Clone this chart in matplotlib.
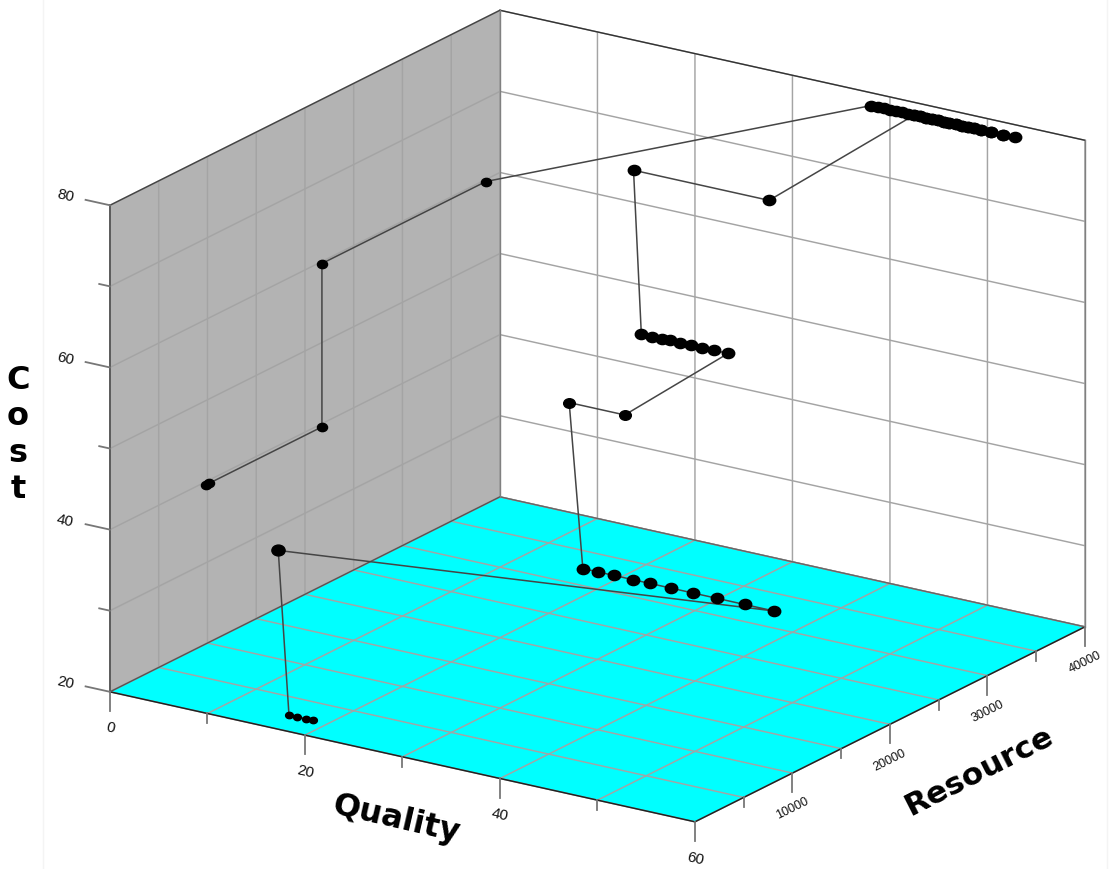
import matplotlib
matplotlib.use("Agg")
import matplotlib.pyplot as plt
from matplotlib.lines import Line2D
from matplotlib.markers import MarkerStyle
from matplotlib.transforms import Affine2D

# tick values
quality_major = [0, 20, 40, 60]
quality_minor = [10, 30, 50]
resource_major = [10000, 20000, 30000, 40000]
resource_minor = [5000, 15000, 25000, 35000]
cost_major = [20, 40, 60, 80]
cost_minor = [30, 50, 70]

# first group on the floor
start_q = [18.5, 17.7, 16.8, 16.0]
start_r = [2360, 2360, 2360, 2360]
start_c = [20, 20, 20, 20]

turn_q = [14.9]
turn_r = [2360]
turn_c = [40]

low_q = [58.7, 55.7, 52.9, 50.4, 48.1, 46.0, 44.2, 42.3, 40.7, 39.1]
low_r = [9400] * 10
low_c = [40] * 10

step_q = [37.6, 43.3]
step_r = [9500, 9500]
step_c = [60, 60]

mid_q = [41.9, 40.5, 39.2, 38.1, 37.0, 35.9, 35.1, 34.1, 33.0]
mid_r = [21500] * 9
mid_c = [60] * 9

high_q = [32.2, 46.1]
high_r = [21500, 21500]
high_c = [80, 80]

top_q = [44.3, 44.9, 45.5, 46.1, 46.7, 47.3, 47.9, 48.6, 49.2, 49.8, 50.4,
         51.1, 52.2, 53.4, 54.6]
top_back_q = [53.4, 52.2, 51.1, 50.4, 49.8, 49.2, 48.6, 47.9, 47.3, 46.7,
              46.1, 45.5, 44.9, 44.3, 43.6, 43.0, 42.4, 41.8, 41.2, 40.6, 39.9]
top_r = [38200] * len(top_q)
top_back_r = [38200] * len(top_back_q)
top_c = [80] * len(top_q)
top_back_c = [80] * len(top_back_q)

wall_q = [0, 0, 0, 0, 0]
wall_r = [38560, 21740, 21740, 10200, 9800]
wall_c = [59.75, 59.75, 39.6, 39.6, 39.6]

fig = plt.figure(figsize=(11.13, 8.7), dpi=100)
ax = fig.add_axes([150.7 / 1113, 6.2 / 870, 870 / 1113, 870 / 870], projection="3d")
ax.set_proj_type("ortho")
ax.view_init(elev=19.47, azim=-56.31)
ax.set_box_aspect((1, 1, 0.734), zoom=1.25)
ax.computed_zorder = False
ax.patch.set_alpha(0)

# path through all the points
path_q = start_q + turn_q + low_q + step_q + mid_q + high_q + top_q + top_back_q + wall_q
path_r = start_r + turn_r + low_r + step_r + mid_r + high_r + top_r + top_back_r + wall_r
path_c = start_c + turn_c + low_c + step_c + mid_c + high_c + top_c + top_back_c + wall_c
ax.plot(path_q, path_r, path_c, color="#454545", lw=1.1, zorder=3, clip_on=False)

# dots are a bit wider than tall in the original
dot = MarkerStyle("o", transform=Affine2D().scale(1.12, 0.92))
ax.plot(start_q, start_r, start_c, marker=dot, ls="", color="black", ms=5, zorder=4)
ax.plot(turn_q, turn_r, turn_c, marker=dot, ls="", color="black", ms=8.5, zorder=4)
ax.plot(low_q, low_r, low_c, marker=dot, ls="", color="black", ms=8, zorder=4)
ax.plot(step_q, step_r, step_c, marker=dot, ls="", color="black", ms=7.5, zorder=4)
ax.plot(mid_q, mid_r, mid_c, marker=dot, ls="", color="black", ms=8, zorder=4)
ax.plot(high_q, high_r, high_c, marker=dot, ls="", color="black", ms=8, zorder=4)
ax.plot(top_q, top_r, top_c, marker=dot, ls="", color="black", ms=8, zorder=4, clip_on=False)
ax.plot(top_back_q, top_back_r, top_back_c, marker=dot, ls="", color="black", ms=8, zorder=4, clip_on=False)
ax.plot(wall_q, wall_r, wall_c, marker=dot, ls="", color="black", ms=6.5, zorder=4)

ax.set_xlim(0, 60, view_margin=0)
ax.set_ylim(0, 40000, view_margin=0)
ax.set_zlim(20, 80, view_margin=0)

# grid from native ticks, the tick marks themselves are drawn by hand below
ax.set_xticks(sorted(quality_major + quality_minor))
ax.set_yticks([0] + sorted(resource_major + resource_minor))
ax.set_zticks(sorted(cost_major + cost_minor))
ax.set_xticklabels([])
ax.set_yticklabels([])
ax.set_zticklabels([])
ax.tick_params(axis="both", color="none", width=0)

ax.xaxis.set_pane_color("#b3b3b3")
ax.yaxis.set_pane_color("white")
ax.zaxis.set_pane_color("#00ffff")
for axis in [ax.xaxis, ax.yaxis, ax.zaxis]:
    axis.line.set_color("none")
    axis.pane.set_edgecolor("none")
    axis._axinfo["grid"].update(color="#a4a4a4", linewidth=1.05, linestyle="-")

# box outline over the grid, the lines reach past the square axes so no clipping
ax.plot([0, 60], [0, 0], [20, 20], color="#222222", lw=1.1, zorder=2, clip_on=False)
ax.plot([60, 60], [0, 40000], [20, 20], color="#222222", lw=1.1, zorder=2, clip_on=False)
ax.plot([0, 0], [0, 40000], [20, 20], color="#555555", lw=1, zorder=2, clip_on=False)
ax.plot([0, 60], [40000, 40000], [20, 20], color="#666666", lw=1, zorder=2, clip_on=False)
ax.plot([0, 0], [0, 40000], [80, 80], color="#444444", lw=1, zorder=2, clip_on=False)
ax.plot([0, 60], [40000, 40000], [80, 80], color="#333333", lw=1, zorder=2, clip_on=False)
ax.plot([0, 0], [0, 0], [20, 80], color="#555555", lw=1.3, zorder=2, clip_on=False)
ax.plot([0, 0], [40000, 40000], [20, 80], color="#808080", lw=1, zorder=2, clip_on=False)
ax.plot([60, 60], [40000, 40000], [20, 80], color="#808080", lw=1, zorder=2, clip_on=False)

tick_color = "#777777"
for q in quality_major:
    ax.plot([q, q], [0, 0], [20, 17.65], color=tick_color, lw=1.3, clip_on=False)
for q in quality_minor:
    ax.plot([q, q], [0, 0], [20, 18.8], color=tick_color, lw=1.3, clip_on=False)
for r in resource_major:
    ax.plot([60, 60], [r, r], [20, 17.65], color=tick_color, lw=1.3, clip_on=False)
for r in resource_minor:
    ax.plot([60, 60], [r, r], [20, 18.8], color=tick_color, lw=1.3, clip_on=False)
for c in cost_major:
    ax.plot([0, -2.5], [0, 0], [c, c], color=tick_color, lw=1.3, clip_on=False)
for c in cost_minor:
    ax.plot([0, -1.1], [0, 0], [c, c], color=tick_color, lw=1.3, clip_on=False)

# zdir makes the labels follow the axis direction on screen
label_font = ["Liberation Sans", "DejaVu Sans"]
for q in quality_major:
    ax.text(q, 0, 15.6, str(q), zdir="x", ha="center", va="center",
            fontsize=11, family=label_font, color="#111111")
for r in resource_major:
    ax.text(60, r, 15.7, str(r), zdir="y", ha="center", va="center",
            fontsize=9, family=label_font, color="#111111")
for c in cost_major:
    ax.text(-4.6, 0, c, str(c), zdir="x", ha="center", va="center",
            fontsize=11, family=label_font, color="#111111")

fig.text(396 / 1113, 1 - 820 / 870, "Quality", fontsize=23, fontweight="bold",
         rotation=-13, ha="center", va="center", rotation_mode="anchor")
fig.text(979 / 1113, 1 - 771 / 870, "Resource", fontsize=22.5, fontweight="bold",
         rotation=27, ha="center", va="center", rotation_mode="anchor")
fig.text(18 / 1113, 1 - 435 / 870, "C\no\ns\nt", fontsize=23, fontweight="bold",
         ha="center", va="center", ma="center", linespacing=1.22)

# faint scan edges of the original image
fig.add_artist(Line2D([43 / 1113, 43 / 1113], [0, 1], color="#f4f4f4", lw=1))
fig.add_artist(Line2D([1107 / 1113, 1107 / 1113], [0, 1], color="#f4f4f4", lw=1))

fig.savefig("out.png", dpi=100)
